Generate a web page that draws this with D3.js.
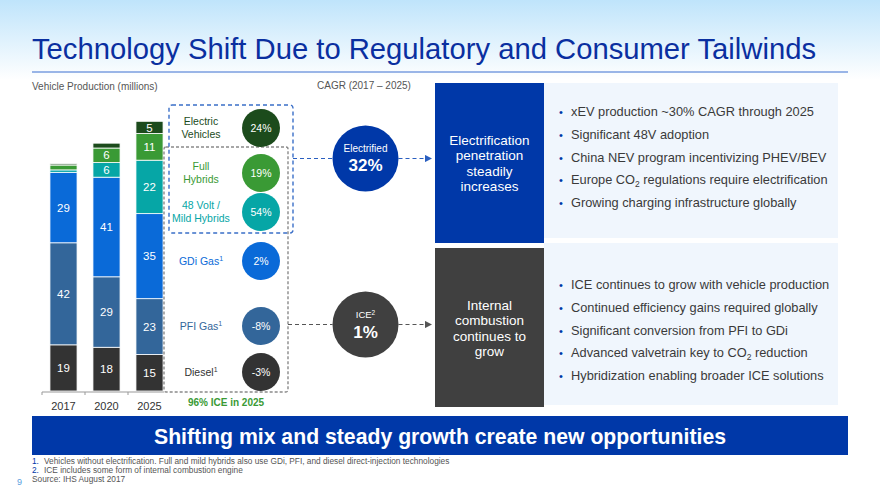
<!DOCTYPE html>
<html><head><meta charset="utf-8">
<script src="https://cdn.jsdelivr.net/npm/d3@7/dist/d3.min.js"></script>
<style>html,body{margin:0;padding:0;background:#fff;}svg{display:block;font-family:"Liberation Sans",Arial,sans-serif;}</style>
</head><body><svg id="c" width="880" height="495"></svg>
<script>
// ---- data ----
const years = ["2017", "2020", "2025"];
const seriesNames = ["Diesel", "PFI Gas", "GDi Gas", "48 Volt / Mild Hybrids", "Full Hybrids", "Electric Vehicles"];
const diesel = [19, 18, 15];
const pfi = [42, 29, 23];
const gdi = [29, 41, 35];
const mild = [1, 6, 22];
const full = [2, 6, 11];
const ev = [0.5, 2, 5];
const cagrLabels = ["-3%", "-8%", "2%", "54%", "19%", "24%"];
const legendLines = [["Diesel¹"], ["PFI Gas¹"], ["GDi Gas¹"], ["48 Volt /", "Mild Hybrids"], ["Full", "Hybrids"], ["Electric", "Vehicles"]];
const electrifiedCagr = "32%";
const iceCagr = "1%";
const evBullets = ["xEV production ~30% CAGR through 2025", "Significant 48V adoption", "China NEV program incentivizing PHEV/BEV", "Europe CO|2| regulations require electrification", "Growing charging infrastructure globally"];
const iceBullets = ["ICE continues to grow with vehicle production", "Continued efficiency gains required globally", "Significant conversion from PFI to GDi", "Advanced valvetrain key to CO|2| reduction", "Hybridization enabling broader ICE solutions"];
const footnotes = [["1.", "Vehicles without electrification. Full and mild hybrids also use GDi, PFI, and diesel direct-injection technologies"], ["2.", "ICE includes some form of internal combustion engine"]];

const colors = ["#333333", "#33669a", "#0a6ad8", "#06a6a6", "#3a9a35", "#1c4b1c"];
const textColors = ["#333333", "#33669a", "#0a6ad8", "#06a6a6", "#3a9a35", "#1c4b1c"];
const navy = "#0038a8";

const svg = d3.select("#c");
const defs = svg.append("defs");
const grad = defs.append("linearGradient").attr("id", "hg").attr("x1", 0).attr("y1", 0).attr("x2", 0).attr("y2", 1);
grad.append("stop").attr("offset", "0%").attr("stop-color", "#bfe4fb");
grad.append("stop").attr("offset", "100%").attr("stop-color", "#ffffff");
svg.append("rect").attr("x", 0).attr("y", 0).attr("width", 880).attr("height", 80).attr("fill", "url(#hg)");
["bm", "gm"].forEach((id, i) => {
  defs.append("marker").attr("id", id).attr("viewBox", "0 0 6 6").attr("refX", 5).attr("refY", 3)
    .attr("markerWidth", 6).attr("markerHeight", 6).attr("orient", "auto")
    .append("path").attr("d", "M0,0L6,3L0,6Z").attr("fill", i ? "#555" : "#2a5fc0");
});

// title
svg.append("text").attr("x", 32).attr("y", 59).attr("font-size", 29).attr("fill", "#0a2fa0")
  .attr("textLength", 784).attr("lengthAdjust", "spacingAndGlyphs")
  .text("Technology Shift Due to Regulatory and Consumer Tailwinds");
svg.append("line").attr("x1", 32).attr("x2", 848).attr("y1", 72).attr("y2", 72).attr("stroke", "#3a6fd0").attr("stroke-width", 1);

svg.append("text").attr("x", 32).attr("y", 90).attr("font-size", 10).attr("fill", "#555").text("Vehicle Production (millions)");
svg.append("text").attr("x", 317).attr("y", 89).attr("font-size", 10).attr("fill", "#555").text("CAGR (2017 – 2025)");

// ---- stacked bars ----
const x = d3.scaleBand().domain(years).range([42, 171]).paddingInner(0.37).paddingOuter(0.185);
const y = d3.scaleLinear().domain([0, 111]).range([391, 121.3]);
const table = years.map((yr, i) => ({year: yr, s0: diesel[i], s1: pfi[i], s2: gdi[i], s3: mild[i], s4: full[i], s5: ev[i]}));
const keys = ["s0", "s1", "s2", "s3", "s4", "s5"];
const stack = d3.stack().keys(keys)(table);
const g = svg.append("g");
stack.forEach((layer, li) => {
  g.selectAll(null).data(layer).enter().append("rect")
    .attr("x", d => x(d.data.year)).attr("width", x.bandwidth())
    .attr("y", d => y(d[1])).attr("height", d => y(d[0]) - y(d[1]))
    .attr("fill", colors[li]).attr("stroke", "#fff").attr("stroke-width", 0.8);
  g.selectAll(null).data(layer.filter(d => d[1] - d[0] >= 4)).enter().append("text")
    .attr("x", d => x(d.data.year) + x.bandwidth() / 2).attr("y", d => (y(d[0]) + y(d[1])) / 2)
    .attr("dy", "0.36em").attr("text-anchor", "middle").attr("font-size", 11.5).attr("fill", "#fff")
    .text(d => d[1] - d[0]);
});
// axis
const axisY = 392;
g.append("line").attr("x1", x.range()[0]).attr("x2", 164).attr("y1", axisY).attr("y2", axisY).attr("stroke", "#999");
years.forEach(yr => {
  const bx = x(yr) - x.step() * x.paddingInner() / 2;
  g.append("line").attr("x1", bx).attr("x2", bx).attr("y1", axisY).attr("y2", axisY + 3).attr("stroke", "#999");
});
g.selectAll(null).data(years).enter().append("text")
  .attr("x", d => x(d) + x.bandwidth() / 2).attr("y", 410).attr("text-anchor", "middle")
  .attr("font-size", 11).attr("fill", "#333").text(d => d);

// ---- legend boxes ----
svg.append("rect").attr("x", 164).attr("y", 147).attr("width", 124).attr("height", 245).attr("rx", 2)
  .attr("fill", "none").attr("stroke", "#8a8a8a").attr("stroke-width", 1.4).attr("stroke-dasharray", "3,2");
svg.append("rect").attr("x", 169).attr("y", 105).attr("width", 124).attr("height", 128).attr("rx", 3)
  .attr("fill", "none").attr("stroke", "#3a6fc8").attr("stroke-width", 1.4).attr("stroke-dasharray", "4,3");

const legY = [372, 326, 261, 212, 173, 128];
const circX = 261;
seriesNames.forEach((n, i) => {
  svg.append("circle").attr("cx", circX).attr("cy", legY[i]).attr("r", 19).attr("fill", colors[i]);
  svg.append("text").attr("x", circX).attr("y", legY[i]).attr("dy", "0.36em").attr("text-anchor", "middle")
    .attr("font-size", 10.5).attr("fill", "#fff").text(cagrLabels[i]);
  const lines = legendLines[i];
  lines.forEach((ln, j) => {
    const t = svg.append("text").attr("x", 201).attr("text-anchor", "middle").attr("font-size", 10.5).attr("fill", textColors[i])
      .attr("y", legY[i] + 3.6 + (j - (lines.length - 1) / 2) * 12.3);
    if (ln.endsWith("¹")) {
      t.append("tspan").text(ln.slice(0, -1));
      t.append("tspan").attr("font-size", 7).attr("dy", -4).text("1");
    } else t.text(ln);
  });
});
svg.append("text").attr("x", 226).attr("y", 406).attr("text-anchor", "middle").attr("font-size", 10)
  .attr("font-weight", "bold").attr("fill", "#3a9a35").text("96% ICE in 2025");

// ---- connectors & CAGR circles ----
const eC = {x: 365.5, y: 158.5}, iC = {x: 365.5, y: 324.5};
svg.append("line").attr("x1", 293).attr("x2", eC.x - 33).attr("y1", eC.y).attr("y2", eC.y).attr("stroke", "#2a5fc0").attr("stroke-width", 1.2).attr("stroke-dasharray", "4,3");
svg.append("line").attr("x1", eC.x + 33).attr("x2", 431).attr("y1", eC.y).attr("y2", eC.y).attr("stroke", "#2a5fc0").attr("stroke-width", 1.2).attr("stroke-dasharray", "4,3").attr("marker-end", "url(#bm)");
svg.append("line").attr("x1", 288).attr("x2", iC.x - 33).attr("y1", iC.y).attr("y2", iC.y).attr("stroke", "#555").attr("stroke-width", 1.2).attr("stroke-dasharray", "4,3");
svg.append("line").attr("x1", iC.x + 33).attr("x2", 431).attr("y1", iC.y).attr("y2", iC.y).attr("stroke", "#555").attr("stroke-width", 1.2).attr("stroke-dasharray", "4,3").attr("marker-end", "url(#gm)");

svg.append("circle").attr("cx", eC.x).attr("cy", eC.y).attr("r", 33).attr("fill", navy);
svg.append("text").attr("x", eC.x).attr("y", 152).attr("text-anchor", "middle").attr("font-size", 10).attr("fill", "#fff").text("Electrified");
svg.append("text").attr("x", eC.x).attr("y", 171).attr("text-anchor", "middle").attr("font-size", 17).attr("font-weight", "bold").attr("fill", "#fff").text(electrifiedCagr);
svg.append("circle").attr("cx", iC.x).attr("cy", iC.y).attr("r", 33).attr("fill", "#404040");
const it = svg.append("text").attr("x", iC.x).attr("y", 318).attr("text-anchor", "middle").attr("font-size", 9.5).attr("fill", "#fff");
it.append("tspan").text("ICE"); it.append("tspan").attr("font-size", 6.5).attr("dy", -3.5).text("2");
svg.append("text").attr("x", iC.x).attr("y", 337.5).attr("text-anchor", "middle").attr("font-size", 17).attr("font-weight", "bold").attr("fill", "#fff").text(iceCagr);

// ---- statement boxes ----
svg.append("rect").attr("x", 544).attr("y", 83).attr("width", 294).attr("height", 155).attr("fill", "#f0f6fd");
svg.append("rect").attr("x", 544).attr("y", 243).attr("width", 294).attr("height", 162).attr("fill", "#f0f6fd");
svg.append("rect").attr("x", 435).attr("y", 83).attr("width", 109).attr("height", 160).attr("fill", navy);
svg.append("rect").attr("x", 435).attr("y", 248).attr("width", 109).attr("height", 159).attr("fill", "#404040");
const boxText = (lines, y0) => lines.forEach((l, i) => svg.append("text").attr("x", 489.5).attr("y", y0 + i * 15.3)
  .attr("text-anchor", "middle").attr("font-size", 13.5).attr("fill", "#fff").text(l));
boxText(["Electrification", "penetration", "steadily", "increases"], 145);
boxText(["Internal", "combustion", "continues to", "grow"], 310);

const bullets = (arr, y0) => arr.forEach((b, i) => {
  const yy = y0 + i * 22.8;
  svg.append("text").attr("x", 559).attr("y", yy).attr("font-size", 11).attr("fill", navy).text("•");
  const t = svg.append("text").attr("x", 571).attr("y", yy).attr("font-size", 12.8).attr("fill", "#3a3a3a");
  const parts = b.split("|");
  t.append("tspan").text(parts[0]);
  if (parts.length > 1) {
    t.append("tspan").attr("font-size", 8.5).attr("dy", 3).text(parts[1]);
    t.append("tspan").attr("dy", -3).text(parts[2]);
  }
});
bullets(evBullets, 116);
bullets(iceBullets, 289);

// ---- banner & footnotes ----
svg.append("rect").attr("x", 32).attr("y", 416).attr("width", 816).attr("height", 39).attr("fill", navy);
svg.append("text").attr("x", 440).attr("y", 443.5).attr("text-anchor", "middle").attr("font-size", 22).attr("font-weight", "bold")
  .attr("fill", "#fff").attr("textLength", 572).attr("lengthAdjust", "spacingAndGlyphs")
  .text("Shifting mix and steady growth create new opportunities");
footnotes.forEach((f, i) => {
  const yy = 464 + i * 9;
  svg.append("text").attr("x", 32).attr("y", yy).attr("font-size", 8.3).attr("fill", navy).text(f[0]);
  svg.append("text").attr("x", 44).attr("y", yy).attr("font-size", 8.3).attr("fill", "#555").text(f[1]);
});
svg.append("text").attr("x", 32).attr("y", 482).attr("font-size", 8.3).attr("fill", "#555").text("Source: IHS August 2017");
svg.append("text").attr("x", 17).attr("y", 485).attr("font-size", 9).attr("fill", "#5aa0e0").text("9");
</script></body></html>
